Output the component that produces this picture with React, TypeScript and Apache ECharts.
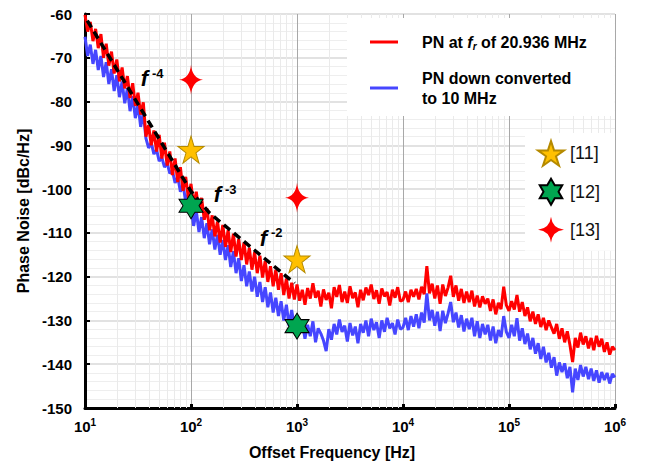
import React, { useEffect, useRef } from 'react';
import * as echarts from 'echarts';

const FONT = '"Liberation Sans", Arial, sans-serif';

// frequency grid: decades x mantissas (40 points per decade) + 1 MHz end point
const DECADES = [10, 100, 1000, 10000, 100000];
const MANTISSAS = [
  1.0, 1.059, 1.122, 1.189, 1.259, 1.334, 1.413, 1.496, 1.585, 1.679,
  1.778, 1.884, 1.995, 2.113, 2.239, 2.371, 2.512, 2.661, 2.818, 2.985,
  3.162, 3.35, 3.548, 3.758, 3.981, 4.217, 4.467, 4.732, 5.012, 5.309,
  5.623, 5.957, 6.31, 6.683, 7.079, 7.499, 7.943, 8.414, 8.913, 9.441,
];
const LAST_FREQ = 1000000;
const MINOR_MULTS = [2, 3, 4, 5, 6, 7, 8, 9];

// red trace: PN at fr of 20.936 MHz (dBc/Hz), per decade
const RED_D1 = [-60.2, -64.0, -61.8, -66.2, -63.4, -67.8, -64.6, -70.0, -66.8, -71.8, -68.6, -73.6, -70.4, -75.4, -72.2, -77.0, -74.2, -79.2, -75.8, -81.0, -78.0, -83.0, -80.2, -88.0, -85.4, -90.0, -86.6, -91.4, -87.6, -93.0, -89.4, -94.6, -91.4, -96.8, -93.0, -98.4, -95.0, -100.4, -97.2, -102.0];
const RED_D2 = [-98.8, -103.8, -100.6, -105.4, -102.0, -107.0, -104.4, -109.4, -106.0, -110.8, -107.4, -112.2, -108.2, -113.2, -109.4, -114.4, -110.2, -115.4, -111.4, -116.2, -112.2, -117.2, -113.4, -118.4, -114.4, -119.2, -115.2, -120.2, -116.4, -121.2, -117.6, -122.2, -118.4, -123.0, -119.2, -124.2, -120.4, -125.0, -121.4, -125.2];
const RED_D3 = [-121.8, -125.5, -123.0, -126.4, -122.6, -125.0, -121.5, -124.8, -123.2, -126.8, -122.9, -125.3, -123.7, -127.2, -122.4, -124.6, -121.9, -125.8, -123.4, -126.0, -122.2, -124.9, -123.6, -127.0, -123.0, -125.4, -122.5, -124.2, -121.8, -125.1, -123.1, -126.2, -122.7, -124.5, -123.5, -126.6, -123.0, -124.8, -122.4, -125.6];
const RED_D4 = [-125.3, -123.4, -125.8, -123.0, -124.6, -122.8, -125.2, -122.3, -124.0, -117.6, -123.8, -121.6, -125.0, -122.0, -126.2, -121.8, -124.4, -122.5, -119.8, -124.6, -122.0, -125.5, -122.8, -126.0, -123.4, -125.8, -123.2, -126.8, -124.3, -127.0, -124.5, -126.2, -125.0, -127.8, -125.2, -128.6, -126.0, -127.4, -122.3, -126.5];
const RED_D5 = [-127.8, -125.6, -127.5, -124.2, -128.0, -125.8, -129.0, -127.0, -130.2, -128.0, -130.8, -128.6, -131.5, -129.4, -132.2, -130.0, -131.6, -133.0, -130.8, -134.2, -131.8, -135.0, -132.5, -135.6, -139.5, -134.0, -136.2, -132.8, -135.5, -133.6, -136.4, -134.0, -136.8, -133.5, -136.0, -134.2, -137.2, -135.0, -137.8, -136.0, -136.8];

// blue trace: PN down converted to 10 MHz (dBc/Hz), per decade
const BLUE_D1 = [-65.2, -69.6, -67.0, -71.4, -68.2, -72.8, -69.6, -74.4, -71.0, -76.0, -72.6, -77.6, -74.0, -79.0, -75.4, -80.4, -77.0, -82.2, -78.8, -83.8, -80.6, -85.8, -82.6, -88.4, -90.6, -89.4, -92.0, -91.0, -93.6, -92.8, -95.0, -94.0, -96.4, -95.8, -98.6, -97.2, -100.6, -98.8, -103.0, -101.0];
const BLUE_D2 = [-103.8, -108.4, -105.0, -109.8, -106.4, -111.2, -107.8, -112.6, -109.2, -113.8, -110.4, -115.0, -111.6, -116.2, -112.8, -117.8, -114.2, -119.2, -115.8, -121.0, -117.4, -122.2, -118.8, -123.4, -120.0, -124.6, -121.2, -125.8, -122.4, -127.0, -123.6, -128.2, -124.8, -129.0, -125.6, -130.0, -126.4, -131.2, -127.6, -131.6];
const BLUE_D3 = [-129.6, -132.8, -130.4, -134.2, -131.0, -133.6, -130.2, -135.0, -131.8, -133.0, -134.6, -137.0, -132.0, -134.4, -130.8, -133.2, -129.8, -132.6, -131.2, -134.8, -130.6, -133.4, -131.4, -135.2, -130.8, -132.8, -130.0, -133.6, -129.6, -132.2, -130.4, -134.0, -130.0, -132.6, -129.4, -131.8, -130.6, -133.2, -129.8, -132.0];
const BLUE_D4 = [-131.6, -129.4, -132.2, -129.0, -131.4, -128.6, -131.8, -128.2, -130.5, -123.8, -130.0, -127.6, -131.2, -128.0, -132.4, -127.8, -130.6, -128.4, -125.8, -130.4, -128.2, -131.6, -128.8, -132.5, -129.6, -132.0, -129.4, -133.6, -130.2, -134.0, -130.8, -133.2, -131.0, -134.6, -131.4, -135.2, -132.2, -133.8, -129.0, -132.6];
const BLUE_D5 = [-134.0, -131.0, -133.6, -129.5, -134.6, -131.8, -135.4, -133.0, -136.6, -134.0, -137.6, -135.2, -138.8, -136.0, -139.6, -137.4, -140.8, -138.4, -142.6, -139.6, -141.8, -139.8, -143.2, -140.6, -146.4, -141.0, -143.6, -140.2, -142.8, -140.6, -143.4, -141.0, -143.8, -141.4, -144.2, -141.8, -143.6, -142.0, -144.4, -142.2, -143.0];

// dashed fit line (f^-4, f^-3, f^-2)
const FIT_FREQ = [10.5, 100, 150, 950];
const FIT_PN = [-61.5, -100.5, -105.5, -121.5];

// reference points
const REF11 = [[100, -91], [1000, -116]];
const REF12 = [[100, -103.8], [1000, -131.3]];
const REF13 = [[100, -75], [1000, -102]];

// slope annotations
const SLOPE_FREQ = [43, 210, 570];
const SLOPE_PN = [-74.8, -101.3, -111.2];
const SLOPE_EXP = ['-4', '-3', '-2'];

const RED_NAME = 'PN at fr of 20.936 MHz';
const BLUE_NAME = 'PN down converted to 10 MHz';

const STAR5 = 'path://M50,0 L61.2,34.5 L97.6,34.5 L68.2,55.9 L79.4,90.5 L50,69.1 L20.6,90.5 L31.8,55.9 L2.4,34.5 L38.8,34.5 Z';
const STAR6 = 'path://M50,0 L64.4,25 L93.3,25 L78.9,50 L93.3,75 L64.4,75 L50,100 L35.6,75 L6.7,75 L21.1,50 L6.7,25 L35.6,25 Z';
const STAR4 = 'path://M50,0 Q55,45 100,50 Q55,55 50,100 Q45,55 0,50 Q45,45 50,0 Z';

function buildOption() {
  const freq: number[] = [];
  DECADES.forEach((d) => MANTISSAS.forEach((m) => freq.push(+(d * m).toPrecision(4))));
  freq.push(LAST_FREQ);
  const red = [...RED_D1, ...RED_D2, ...RED_D3, ...RED_D4, ...RED_D5];
  const blue = [...BLUE_D1, ...BLUE_D2, ...BLUE_D3, ...BLUE_D4, ...BLUE_D5];
  const n1 = Math.min(freq.length, red.length);
  const n2 = Math.min(freq.length, blue.length);
  const redData = freq.slice(0, n1).map((f, i) => [f, red[i]]);
  const blueData = freq.slice(0, n2).map((f, i) => [f, blue[i]]);
  const minorX: number[] = [];
  DECADES.forEach((d) => MINOR_MULTS.forEach((m) => minorX.push(d * m)));

  return {
    animation: false,
    backgroundColor: '#ffffff',
    grid: { left: 85, right: 37, top: 14, bottom: 57, containLabel: false },
    legend: [
      {
        data: [RED_NAME, BLUE_NAME],
        orient: 'vertical',
        left: 347,
        top: 18,
        z: 20,
        padding: [14, 28, 8, 23],
        icon: 'rect',
        itemWidth: 28,
        itemHeight: 3,
        itemGap: 16,
        backgroundColor: '#ffffff',
        selectedMode: false,
        formatter: (name: string) =>
          name === RED_NAME ? 'PN at {i|f}{sub|r} of 20.936 MHz' : 'PN down converted\nto 10 MHz',
        textStyle: {
          fontFamily: FONT,
          fontWeight: 'bold',
          fontSize: 16,
          color: '#000',
          lineHeight: 20,
          padding: [0, 0, 0, 19],
          rich: {
            i: { fontFamily: FONT, fontWeight: 'bold', fontStyle: 'italic', fontSize: 16, color: '#000' },
            sub: { fontFamily: FONT, fontWeight: 'bold', fontStyle: 'italic', fontSize: 10, color: '#000', padding: [8, 0, 0, 0] },
          },
        },
      },
      {
        data: ['[11]', '[12]', '[13]'],
        orient: 'vertical',
        left: 525,
        top: 133,
        z: 20,
        padding: [7, 15, 8, 12],
        itemWidth: 26,
        itemHeight: 26,
        itemGap: 11,
        backgroundColor: '#ffffff',
        selectedMode: false,
        textStyle: { fontFamily: FONT, fontSize: 18, color: '#111', padding: [0, 0, 0, 1] },
      },
    ],
    xAxis: {
      type: 'log',
      logBase: 10,
      min: 10,
      max: 1000000,
      name: 'Offset Frequency [Hz]',
      nameLocation: 'middle',
      nameGap: 36,
      nameTextStyle: { fontFamily: FONT, fontWeight: 'bold', fontSize: 16, color: '#000', padding: [0, 36, 0, 0] },
      axisLine: { show: true, onZero: false, lineStyle: { color: '#000', width: 3 } },
      axisTick: { show: true, inside: true, length: 4, lineStyle: { color: '#000', width: 3 } },
      axisLabel: {
        margin: 9,
        formatter: (v: number) => `{b|10}{e|${Math.round(Math.log10(v))}}`,
        rich: {
          b: { fontFamily: FONT, fontWeight: 'bold', fontSize: 15, color: '#000' },
          e: { fontFamily: FONT, fontWeight: 'bold', fontSize: 10, color: '#000', padding: [0, 0, 9, 0] },
        },
      },
      splitLine: { show: true, lineStyle: { color: '#a8a8a8', width: 1 } },
    },
    yAxis: {
      type: 'value',
      min: -150,
      max: -60,
      interval: 10,
      name: 'Phase Noise [dBc/Hz]',
      nameLocation: 'middle',
      nameGap: 52,
      nameTextStyle: { fontFamily: FONT, fontWeight: 'bold', fontSize: 16, color: '#000' },
      axisLine: { show: true, onZero: false, lineStyle: { color: '#000', width: 3 } },
      axisTick: { show: true, inside: true, length: 5, lineStyle: { color: '#000', width: 2 } },
      axisLabel: { margin: 13, fontFamily: FONT, fontWeight: 'bold', fontSize: 15, color: '#000' },
      splitLine: { show: true, lineStyle: { color: '#d9d9d9', width: 1.5 } },
      minorTick: { show: false, splitNumber: 5 },
      minorSplitLine: { show: true, lineStyle: { color: '#eeeeee', width: 1 } },
    },
    series: [
      {
        name: 'minor-grid',
        type: 'line',
        data: [],
        z: 1,
        silent: true,
        markLine: {
          silent: true,
          z: 1,
          symbol: ['none', 'none'],
          label: { show: false },
          lineStyle: { color: '#eaeaea', width: 1, type: 'solid' },
          data: minorX.map((x) => ({ xAxis: x })),
        },
      },
      {
        name: BLUE_NAME,
        type: 'line',
        data: blueData,
        symbol: 'none',
        z: 3,
        itemStyle: { color: '#4646ff' },
        lineStyle: { color: '#4646ff', width: 3 },
      },
      {
        name: RED_NAME,
        type: 'line',
        data: redData,
        symbol: 'none',
        z: 3,
        itemStyle: { color: '#ff0000' },
        lineStyle: { color: '#ff0000', width: 3 },
      },
      {
        name: 'fit',
        type: 'line',
        data: FIT_FREQ.map((f, i) => [f, FIT_PN[i]]),
        symbol: 'none',
        z: 4,
        lineStyle: { color: '#000', width: 3.5, type: [8, 5] },
      },
      {
        name: '[11]',
        type: 'scatter',
        data: REF11,
        symbol: STAR5,
        symbolSize: [26, 27],
        z: 5,
        itemStyle: { color: '#ffc000', borderColor: '#b58a00', borderWidth: 1, opacity: 1 },
      },
      {
        name: '[12]',
        type: 'scatter',
        data: REF12,
        symbol: STAR6,
        symbolSize: [24, 26],
        z: 5,
        itemStyle: { color: '#00a550', borderColor: '#000', borderWidth: 1, opacity: 1 },
      },
      {
        name: '[13]',
        type: 'scatter',
        data: REF13,
        symbol: STAR4,
        symbolSize: [24, 30],
        z: 5,
        itemStyle: { color: '#ff0000', opacity: 1 },
      },
      {
        name: 'slopes',
        type: 'scatter',
        symbolSize: 1,
        z: 6,
        silent: true,
        itemStyle: { color: '#ffffff', opacity: 0 },
        label: { show: true, opacity: 1 },
        data: SLOPE_FREQ.map((f, i) => ({
          value: [f, SLOPE_PN[i]],
          label: {
            show: true,
            position: 'inside',
            color: '#000',
            opacity: 1,
            textBorderWidth: 0,
            fontFamily: FONT,
            fontWeight: 'bold',
            formatter: `{f|f}{s|${SLOPE_EXP[i]}}`,
            rich: {
              f: { fontFamily: FONT, fontWeight: 'bold', fontStyle: 'italic', fontSize: 22, color: '#000', textBorderWidth: 0 },
              s: { fontFamily: FONT, fontWeight: 'bold', fontSize: 13, color: '#000', textBorderWidth: 0, padding: [0, 0, 11, 4] },
            },
          },
        })),
      },
    ],
  };
}

export default function App() {
  const ref = useRef<HTMLDivElement>(null);
  useEffect(() => {
    if (!ref.current) return;
    const chart = echarts.init(ref.current, null, { renderer: 'svg' });
    chart.setOption(buildOption() as any);
    return () => chart.dispose();
  }, []);
  return (
    <div
      ref={ref}
      style={{ position: 'absolute', left: 0, top: 0, width: 652, height: 465, background: '#fff' }}
    />
  );
}
